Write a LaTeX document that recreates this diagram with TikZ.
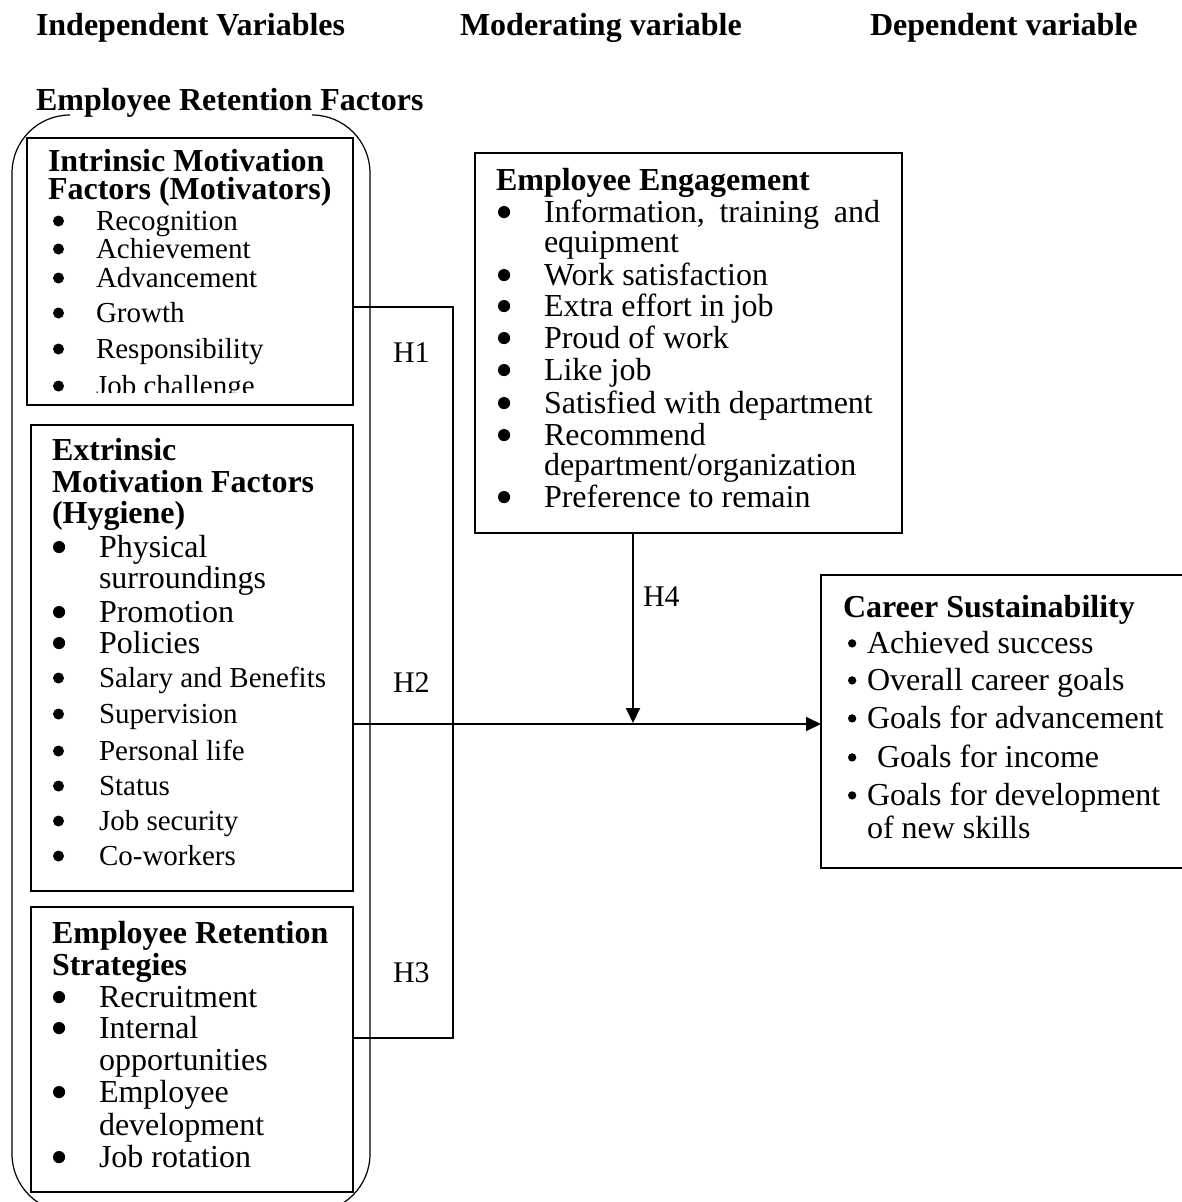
\documentclass[tikz,border=0pt]{standalone}
\usepackage{fontspec}
\setmainfont{Liberation Serif}
\usetikzlibrary{arrows.meta}
\newcommand\bigbul{\tikz[baseline=0pt]\fill (0.19em,0.31em) circle[radius=0.19em];}
\newcommand\smlbul{\tikz[baseline=0pt]\fill (0.13em,0.3em) circle[radius=0.13em];}
\newcommand\bitem[2]{\makebox[#1pt][l]{\bigbul}#2}
\newcommand\sitem[2]{\makebox[#1pt][l]{\smlbul}#2}
\tikzset{
  box/.style={draw, line width=1.2pt, anchor=north west, inner sep=0pt, outer sep=0pt},
  txt/.style={anchor=base west, inner sep=0pt, outer sep=0pt},
  hd/.style={txt, font=\bfseries\fontsize{32}{32}\selectfont},
  tx/.style={txt, font=\fontsize{32}{32}\selectfont},
  ts/.style={txt, font=\fontsize{29}{29}\selectfont},
  lbl/.style={txt, font=\fontsize{30}{30}\selectfont},
  arr/.style={line width=2pt, -{Triangle[length=15pt,width=14pt]}},
  con/.style={line width=1.2pt},
}
\begin{document}
\begin{tikzpicture}[x=1pt,y=-1pt]
\clip (0,0) rectangle (1182,1202);
% headers
\node[hd] (hI) at (36,35) {Independent Variables};
\node[hd] (hM) at (460,35) {Moderating variable};
\node[hd] (hD) at (870,35) {Dependent variable};
\node[hd] (hE) at (36,110) {Employee Retention Factors};
% outer rounded container
\draw[con, rounded corners=58pt] (312,115) -- (370,115) -- (370,1212) -- (12,1212) -- (12,115) -- (70,115);
% boxes
\node[box, minimum width=326pt, minimum height=267pt] (b1) at (27,138) {};
\node[box, minimum width=322pt, minimum height=466pt] (b2) at (31,425) {};
\node[box, minimum width=322pt, minimum height=285pt] (b3) at (31,907) {};
\node[box, minimum width=427pt, minimum height=380pt] (ee) at (475,153) {};
\node[box, minimum width=380pt, minimum height=293pt] (cs) at (821,575) {};
% box 1 text
\node[hd] (b1h1) at (48,171) {Intrinsic Motivation};
\node[hd] (b1h2) at (48,199) {Factors (Motivators)};
\node[ts] (b1i1) at (53,230) {\bitem{43}{Recognition}};
\node[ts] (b1i2) at (53,258) {\bitem{43}{Achievement}};
\node[ts] (b1i3) at (53,287) {\bitem{43}{Advancement}};
\node[ts] (b1i4) at (53,322) {\bitem{43}{Growth}};
\node[ts] (b1i5) at (53,358) {\bitem{43}{Responsibility}};
\begin{scope}
\clip (27,138) rectangle (353,392);
\node[ts] (b1i6) at (53,395) {\bitem{43}{Job challenge}};
\end{scope}
% box 2 text
\node[hd] (b2h1) at (52,460) {Extrinsic};
\node[hd] (b2h2) at (52,492) {Motivation Factors};
\node[hd] (b2h3) at (52,523) {(Hygiene)};
\node[tx] (b2i1) at (53,557) {\bitem{46}{Physical}};
\node[tx] (b2i1b) at (99,588) {surroundings};
\node[tx] (b2i2) at (53,622) {\bitem{46}{Promotion}};
\node[tx] (b2i3) at (53,653) {\bitem{46}{Policies}};
\node[ts] (b2i4) at (53,687) {\bitem{46}{Salary and Benefits}};
\node[ts] (b2i5) at (53,723) {\bitem{46}{Supervision}};
\node[ts] (b2i6) at (53,760) {\bitem{46}{Personal life}};
\node[ts] (b2i7) at (53,795) {\bitem{46}{Status}};
\node[ts] (b2i8) at (53,830) {\bitem{46}{Job security}};
\node[ts] (b2i9) at (53,865) {\bitem{46}{Co-workers}};
% box 3 text
\node[hd] (b3h1) at (52,943) {Employee Retention};
\node[hd] (b3h2) at (52,975) {Strategies};
\node[tx] (b3i1) at (53,1007) {\bitem{46}{Recruitment}};
\node[tx] (b3i2) at (53,1038) {\bitem{46}{Internal}};
\node[tx] (b3i2b) at (99,1070) {opportunities};
\node[tx] (b3i3) at (53,1102) {\bitem{46}{Employee}};
\node[tx] (b3i3b) at (99,1135) {development};
\node[tx] (b3i4) at (53,1167) {\bitem{46}{Job rotation}};
% engagement box text
\node[hd] (eeh) at (496,190) {Employee Engagement};
\node[tx] (ee1) at (498,222) {\bitem{46}{\makebox[336pt][s]{Information,\hfill training\hfill and}}};
\node[tx] (ee1b) at (544,252) {equipment};
\node[tx] (ee2) at (498,285) {\bitem{46}{Work satisfaction}};
\node[tx] (ee3) at (498,316) {\bitem{46}{Extra effort in job}};
\node[tx] (ee4) at (498,348) {\bitem{46}{Proud of work}};
\node[tx] (ee5) at (498,380) {\bitem{46}{Like job}};
\node[tx] (ee6) at (498,413) {\bitem{46}{Satisfied with department}};
\node[tx] (ee7) at (498,445) {\bitem{46}{Recommend}};
\node[tx] (ee7b) at (544,475) {department/organization};
\node[tx] (ee8) at (498,507) {\bitem{46}{Preference to remain}};
% career box text
\node[hd] (csh) at (843,617) {Career Sustainability};
\node[tx] (cs1) at (848,653) {\sitem{19}{Achieved success}};
\node[tx] (cs2) at (848,690) {\sitem{19}{Overall career goals}};
\node[tx] (cs3) at (848,728) {\sitem{19}{Goals for advancement}};
\node[tx] (cs4) at (848,767) {\sitem{29}{Goals for income}};
\node[tx] (cs5) at (848,805) {\sitem{19}{Goals for development}};
\node[tx] (cs5b) at (867,838) {of new skills};
% connectors
\path ([yshift=-35.5pt]b1.east) coordinate (c1);
\path ([yshift=11.5pt]b3.east) coordinate (c3);
\draw[con] (c1) -- ++(100,0) coordinate (k1) -- (k1 |- c3) -- (c3);
\path ([yshift=-66pt]b2.east) coordinate (a0);
\draw[arr] (a0) -- (a0 -| cs.west);
\path ([xshift=-55.5pt]ee.south) coordinate (e0);
\draw[arr] (e0) -- ([yshift=1pt]e0 |- a0);
% hypothesis labels
\node[lbl] (H1) at (393,362) {H1};
\node[lbl] (H2) at (393,692) {H2};
\node[lbl] (H3) at (393,982) {H3};
\node[lbl] (H4) at (643,606) {H4};
\end{tikzpicture}
\end{document}
